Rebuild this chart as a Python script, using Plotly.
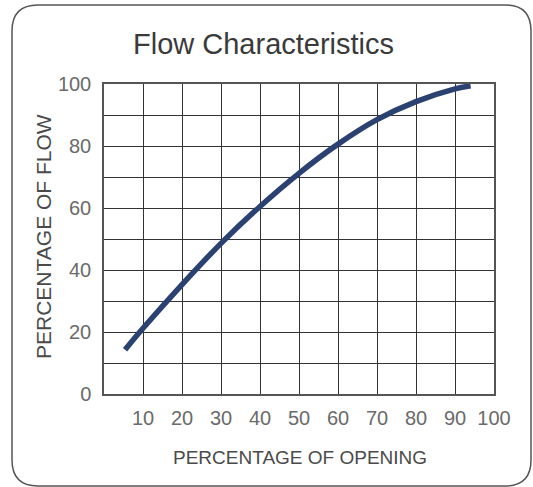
import plotly.graph_objects as go

opening = [5.4, 10, 20, 30, 40, 50, 60, 70, 80, 90, 94]
flow = [14.3, 21.2, 35.3, 48.6, 60.5, 71.2, 80.6, 88.5, 94.3, 98.4, 99.4]

x_ticks = [10, 20, 30, 40, 50, 60, 70, 80, 90, 100]
x_labels = ["10", "20", "30", "40", "50", "60", "70", "80", "90", "100"]
y_ticks = [0, 10, 20, 30, 40, 50, 60, 70, 80, 90, 100]
y_labels = ["0", "", "20", "", "40", "", "60", "", "80", "", "100"]

title = "Flow Characteristics"
x_title = "PERCENTAGE OF OPENING"
y_title = "PERCENTAGE OF FLOW"

W, H = 533, 487
L, R, T, B = 104, 39, 84, 93
pw, ph = W - L - R, H - T - B

def px(x):
    return (x - L) / pw

def py(y):
    return (H - B - y) / ph

FONT = "Liberation Sans"

fig = go.Figure()
fig.add_trace(go.Scatter(
    x=opening, y=flow, mode="lines",
    line=dict(color="#2b4171", width=5.5, shape="spline"),
    hoverinfo="skip", showlegend=False,
))

axis_common = dict(
    showgrid=True, gridcolor="#333333", gridwidth=1.3,
    showline=True, linecolor="#555555", linewidth=1.5, mirror=True,
    zeroline=False, ticks="", tickfont=dict(family=FONT, size=20, color="#6a6a6a"),
    fixedrange=True,
)
fig.update_xaxes(range=[0, 100], tickvals=x_ticks, ticktext=x_labels,
                 ticklabelstandoff=5, **axis_common)
fig.update_yaxes(range=[0, 100], tickvals=y_ticks, ticktext=y_labels,
                 ticklabelstandoff=7, **axis_common)

# rounded outer frame
x0, x1 = px(12), px(531)
y0, y1 = py(486), py(5)
rx, ry = 26 / pw, 26 / ph
path = (f"M {x0+rx},{y1} L {x1-rx},{y1} Q {x1},{y1} {x1},{y1-ry} "
        f"L {x1},{y0+ry} Q {x1},{y0} {x1-rx},{y0} "
        f"L {x0+rx},{y0} Q {x0},{y0} {x0},{y0+ry} "
        f"L {x0},{y1-ry} Q {x0},{y1} {x0+rx},{y1} Z")
fig.add_shape(type="path", path=path, xref="paper", yref="paper",
              line=dict(color="#555555", width=1.5), layer="below")

fig.add_annotation(text=title, x=px(263), y=py(44), xref="paper", yref="paper",
                   showarrow=False, xanchor="center", yanchor="middle",
                   font=dict(family=FONT, size=29, color="#3a3a3a"))
fig.add_annotation(text=x_title, x=px(300), y=py(457), xref="paper", yref="paper",
                   showarrow=False, xanchor="center", yanchor="middle",
                   font=dict(family=FONT, size=19, color="#4a4a4a"))
fig.add_annotation(text=y_title, x=px(43), y=py(237), xref="paper", yref="paper",
                   showarrow=False, xanchor="center", yanchor="middle", textangle=-90,
                   font=dict(family=FONT, size=21, color="#4a4a4a"))

fig.update_layout(
    width=W, height=H,
    margin=dict(l=L, r=R, t=T, b=B),
    paper_bgcolor="white", plot_bgcolor="white",
    showlegend=False,
)

fig.write_html("out.html", config={"displayModeBar": False},
               post_script="document.body.style.margin='0';document.body.style.overflow='hidden';")
